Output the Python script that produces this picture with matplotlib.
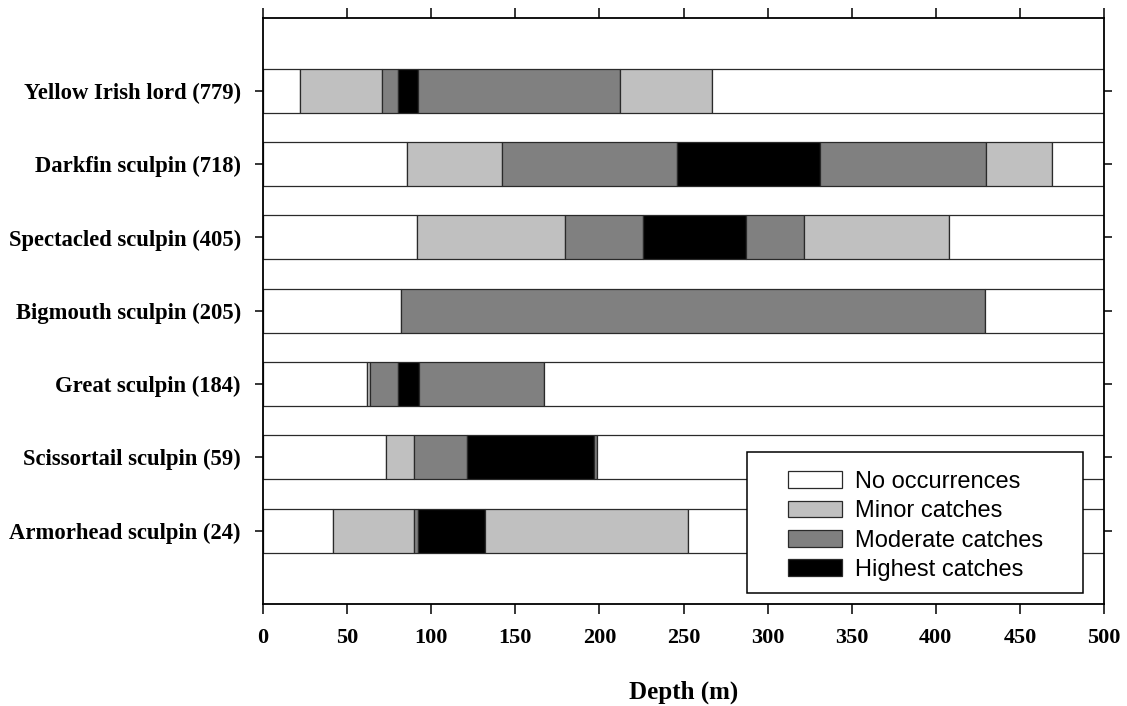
#!/usr/bin/env python3
"""
Sculpin depth distribution by catch level
- one horizontal bar per species, split into depth segments (0-500 m)
- segment shade = catch level (none / minor / moderate / highest)
"""

import matplotlib
matplotlib.use("Agg")
import matplotlib.pyplot as plt
from matplotlib.patches import Patch, Rectangle

# ── Data ──────────────────────────────────────────────────────────────────────
SPECIES = ["Yellow Irish lord", "Darkfin sculpin", "Spectacled sculpin",
           "Bigmouth sculpin", "Great sculpin", "Scissortail sculpin",
           "Armorhead sculpin"]
COUNTS = [779, 718, 405, 205, 184, 59, 24]

# depth boundaries (m) of each segment, and catch level of each segment
# level: 0 = none, 1 = minor, 2 = moderate, 3 = highest
YELLOW_EDGES      = [0, 22, 71, 80, 92, 212, 267, 500]
YELLOW_LEVELS     = [0, 1, 2, 3, 2, 1, 0]
DARKFIN_EDGES     = [0, 85.5, 142, 246, 331, 430, 469, 500]
DARKFIN_LEVELS    = [0, 1, 2, 3, 2, 1, 0]
SPECTACLED_EDGES  = [0, 91.5, 179.5, 226, 287, 321.5, 408, 500]
SPECTACLED_LEVELS = [0, 1, 2, 3, 2, 1, 0]
BIGMOUTH_EDGES    = [0, 82, 429, 500]
BIGMOUTH_LEVELS   = [0, 2, 0]
GREAT_EDGES       = [0, 62, 63.5, 80.5, 92.5, 167, 500]
GREAT_LEVELS      = [0, 1, 2, 3, 2, 0]
SCISSORTAIL_EDGES  = [0, 73, 89.5, 121.5, 197, 198.5, 500]
SCISSORTAIL_LEVELS = [0, 1, 2, 3, 2, 0]
ARMORHEAD_EDGES   = [0, 41.3, 90, 92, 132, 252.5, 500]
ARMORHEAD_LEVELS  = [0, 1, 2, 3, 1, 0]

LEVEL_NAMES  = ["No occurrences", "Minor catches", "Moderate catches", "Highest catches"]
LEVEL_COLORS = ["#FFFFFF", "#C0C0C0", "#808080", "#000000"]
X_TICKS = list(range(0, 501, 50))
# ──────────────────────────────────────────────────────────────────────────────

SERIF = "Liberation Serif"
SANS  = "Liberation Sans"
EDGE  = "#2a2a2a"


def main():
    rows = [
        (YELLOW_EDGES, YELLOW_LEVELS),
        (DARKFIN_EDGES, DARKFIN_LEVELS),
        (SPECTACLED_EDGES, SPECTACLED_LEVELS),
        (BIGMOUTH_EDGES, BIGMOUTH_LEVELS),
        (GREAT_EDGES, GREAT_LEVELS),
        (SCISSORTAIL_EDGES, SCISSORTAIL_LEVELS),
        (ARMORHEAD_EDGES, ARMORHEAD_LEVELS),
    ]
    n = len(SPECIES)

    fig = plt.figure(figsize=(11.27, 7.06), dpi=100)
    ax = fig.add_axes([0.2334, 0.1445, 0.7462, 0.8307])

    for i, (edges, levels) in enumerate(rows):
        y = n - i  # top species first
        for left, right, lv in zip(edges[:-1], edges[1:], levels):
            ax.barh(y, right - left, left=left, height=0.6,
                    color=LEVEL_COLORS[lv], edgecolor=EDGE, linewidth=0.9)

    ax.set_xlim(0, 500)
    ax.set_ylim(0, n + 1)
    ax.set_xticks(X_TICKS)
    ax.set_xticklabels([str(t) for t in X_TICKS], family=SERIF,
                       fontweight="bold", fontsize=16)
    ax.set_yticks(range(n, 0, -1))
    ax.set_yticklabels([f"{s} ({c})" for s, c in zip(SPECIES, COUNTS)],
                       family=SERIF, fontweight="bold", fontsize=16.3)

    ax.tick_params(axis="x", direction="out", length=7, width=1.1, pad=10,
                   top=True, bottom=True)
    ax.tick_params(axis="y", direction="out", length=6, width=1.1, pad=10,
                   right=True)
    for sp in ax.spines.values():
        sp.set_linewidth(1.3)

    ax.set_xlabel("Depth (m)", family=SERIF, fontweight="bold",
                  fontsize=18, labelpad=24)

    # legend: plain square frame drawn separately, entries placed inside it
    ax.add_patch(Rectangle((0.5755, 0.0188), 0.3995, 0.2404,
                           transform=ax.transAxes, facecolor="white",
                           edgecolor="black", linewidth=1.1, zorder=5))
    handles = [Patch(facecolor=c, edgecolor=EDGE, linewidth=0.9)
               for c in LEVEL_COLORS]
    leg = ax.legend(handles, LEVEL_NAMES, loc="upper left",
                    bbox_to_anchor=(0.6243, 0.2268), borderaxespad=0,
                    borderpad=0, frameon=False,
                    prop={"family": SANS, "size": 17},
                    handlelength=2.29, handleheight=0.72, handletextpad=0.55,
                    labelspacing=0.31)
    leg.set_zorder(6)

    fig.savefig("out.png", dpi=100)
    plt.close(fig)


if __name__ == "__main__":
    main()
